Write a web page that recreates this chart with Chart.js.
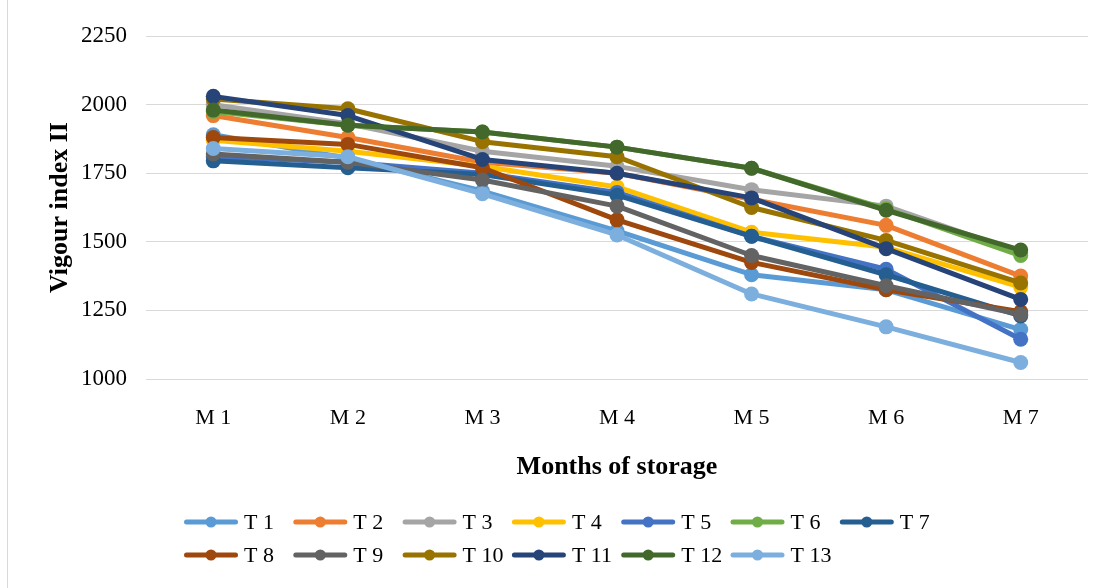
<!DOCTYPE html>
<html>
<head>
<meta charset="utf-8">
<script src="https://cdn.jsdelivr.net/npm/chart.js@4.4.1/dist/chart.umd.min.js"></script>
<style>
  html, body { margin: 0; padding: 0; background: #fff; }
  #wrap { position: relative; width: 1107px; height: 588px; }
  #frame { position: absolute; left: 7px; top: 0; width: 0; height: 588px; border-left: 1px solid #d9d9d9; }
  canvas { position: absolute; left: 0; top: 0; }
</style>
</head>
<body>
<div id="wrap">
  <div id="frame"></div>
  <canvas id="chart" width="1107" height="588"></canvas>
</div>
<script>
// Months on the x axis
const months = ['M 1', 'M 2', 'M 3', 'M 4', 'M 5', 'M 6', 'M 7'];

// Vigour index II per treatment, one value per month
const t1  = [1890, 1805, 1685, 1540, 1380, 1325, 1180];
const t2  = [1960, 1880, 1790, 1750, 1655, 1560, 1375];
const t3  = [2000, 1930, 1830, 1775, 1690, 1630, 1460];
const t4  = [1870, 1830, 1775, 1700, 1535, 1480, 1335];
const t5  = [1810, 1790, 1750, 1680, 1520, 1400, 1145];
const t6  = [1975, 1925, 1900, 1845, 1768, 1620, 1450];
const t7  = [1795, 1770, 1745, 1670, 1520, 1380, 1230];
const t8  = [1880, 1855, 1770, 1580, 1425, 1325, 1245];
const t9  = [1820, 1790, 1725, 1630, 1450, 1340, 1235];
const t10 = [2020, 1985, 1865, 1810, 1625, 1505, 1350];
const t11 = [2030, 1960, 1800, 1750, 1660, 1475, 1290];
const t12 = [1980, 1925, 1900, 1845, 1768, 1615, 1470];
const t13 = [1840, 1810, 1675, 1525, 1310, 1190, 1060];

const seriesNames = ['T 1', 'T 2', 'T 3', 'T 4', 'T 5', 'T 6', 'T 7',
                     'T 8', 'T 9', 'T 10', 'T 11', 'T 12', 'T 13'];
const seriesValues = [t1, t2, t3, t4, t5, t6, t7, t8, t9, t10, t11, t12, t13];
const seriesColors = ['#5B9BD5', '#ED7D31', '#A5A5A5', '#FFC000', '#4472C4', '#70AD47',
                      '#255E91', '#9E480E', '#636363', '#997300', '#264478', '#43682B', '#7CAFDD'];

// Y axis range and step
const yMin = 1000, yMax = 2250, yStep = 250;

const serif = '"Liberation Serif", "Times New Roman", serif';

const datasets = seriesValues.map((vals, i) => ({
  label: seriesNames[i],
  data: vals,
  borderColor: seriesColors[i],
  backgroundColor: seriesColors[i],
  pointBackgroundColor: seriesColors[i],
  pointBorderColor: seriesColors[i],
  borderWidth: 5,
  pointRadius: 7.5,
  pointBorderWidth: 0,
  borderCapStyle: 'round',
  borderJoinStyle: 'round',
  tension: 0,
  fill: false,
  // later series are painted above earlier ones
  order: seriesValues.length - 1 - i
}));

// Legend laid out as a fixed grid of columns under the chart
const gridLegend = {
  id: 'gridLegend',
  afterDraw(chart, args, opts) {
    const ctx = chart.ctx;
    ctx.save();
    ctx.font = opts.font;
    ctx.textBaseline = 'middle';
    ctx.textAlign = 'left';
    chart.data.datasets.forEach((ds, i) => {
      const row = Math.floor(i / opts.perRow);
      const col = i % opts.perRow;
      const x = opts.left + col * opts.pitch;
      const y = opts.rows[row];
      ctx.strokeStyle = ds.borderColor;
      ctx.lineWidth = 5;
      ctx.lineCap = 'round';
      ctx.beginPath();
      ctx.moveTo(x + 2.5, y);
      ctx.lineTo(x + opts.lineLen - 2.5, y);
      ctx.stroke();
      ctx.fillStyle = ds.borderColor;
      ctx.beginPath();
      ctx.arc(x + opts.lineLen / 2, y, 5.5, 0, Math.PI * 2);
      ctx.fill();
      ctx.fillStyle = '#000';
      ctx.fillText(ds.label, x + opts.lineLen + 6, y + 1);
    });
    ctx.restore();
  }
};

new Chart(document.getElementById('chart'), {
  type: 'line',
  data: { labels: months, datasets: datasets },
  plugins: [gridLegend],
  options: {
    responsive: false,
    animation: false,
    layout: { padding: { left: 0, right: 19, top: 36, bottom: 89 } },
    plugins: {
      legend: { display: false },
      tooltip: { enabled: false },
      gridLegend: {
        perRow: 7,
        left: 184,
        pitch: 109.3,
        lineLen: 54,
        rows: [522, 555],
        font: '22px ' + serif
      }
    },
    scales: {
      x: {
        offset: true,
        grid: { display: false },
        border: { display: false },
        ticks: {
          color: '#000',
          font: { family: serif, size: 22 },
          padding: 18,
          maxRotation: 0
        },
        title: {
          display: true,
          text: 'Months of storage',
          color: '#000',
          font: { family: serif, size: 26, weight: 'bold', lineHeight: 1 },
          padding: { top: 0, bottom: 19 }
        },
        afterFit(scale) { scale.height = 120; }
      },
      y: {
        min: yMin,
        max: yMax,
        grid: { color: '#d9d9d9', lineWidth: 1, drawTicks: false },
        border: { display: false },
        ticks: {
          stepSize: yStep,
          color: '#000',
          font: { family: serif, size: 23 },
          padding: 19,
          callback: (v) => String(v)
        },
        title: {
          display: true,
          text: 'Vigour index II',
          color: '#000',
          font: { family: serif, size: 26, weight: 'bold', lineHeight: 1 },
          padding: { top: 47, bottom: 0 }
        },
        afterFit(scale) { scale.width = 146; }
      }
    }
  }
});
</script>
</body>
</html>
